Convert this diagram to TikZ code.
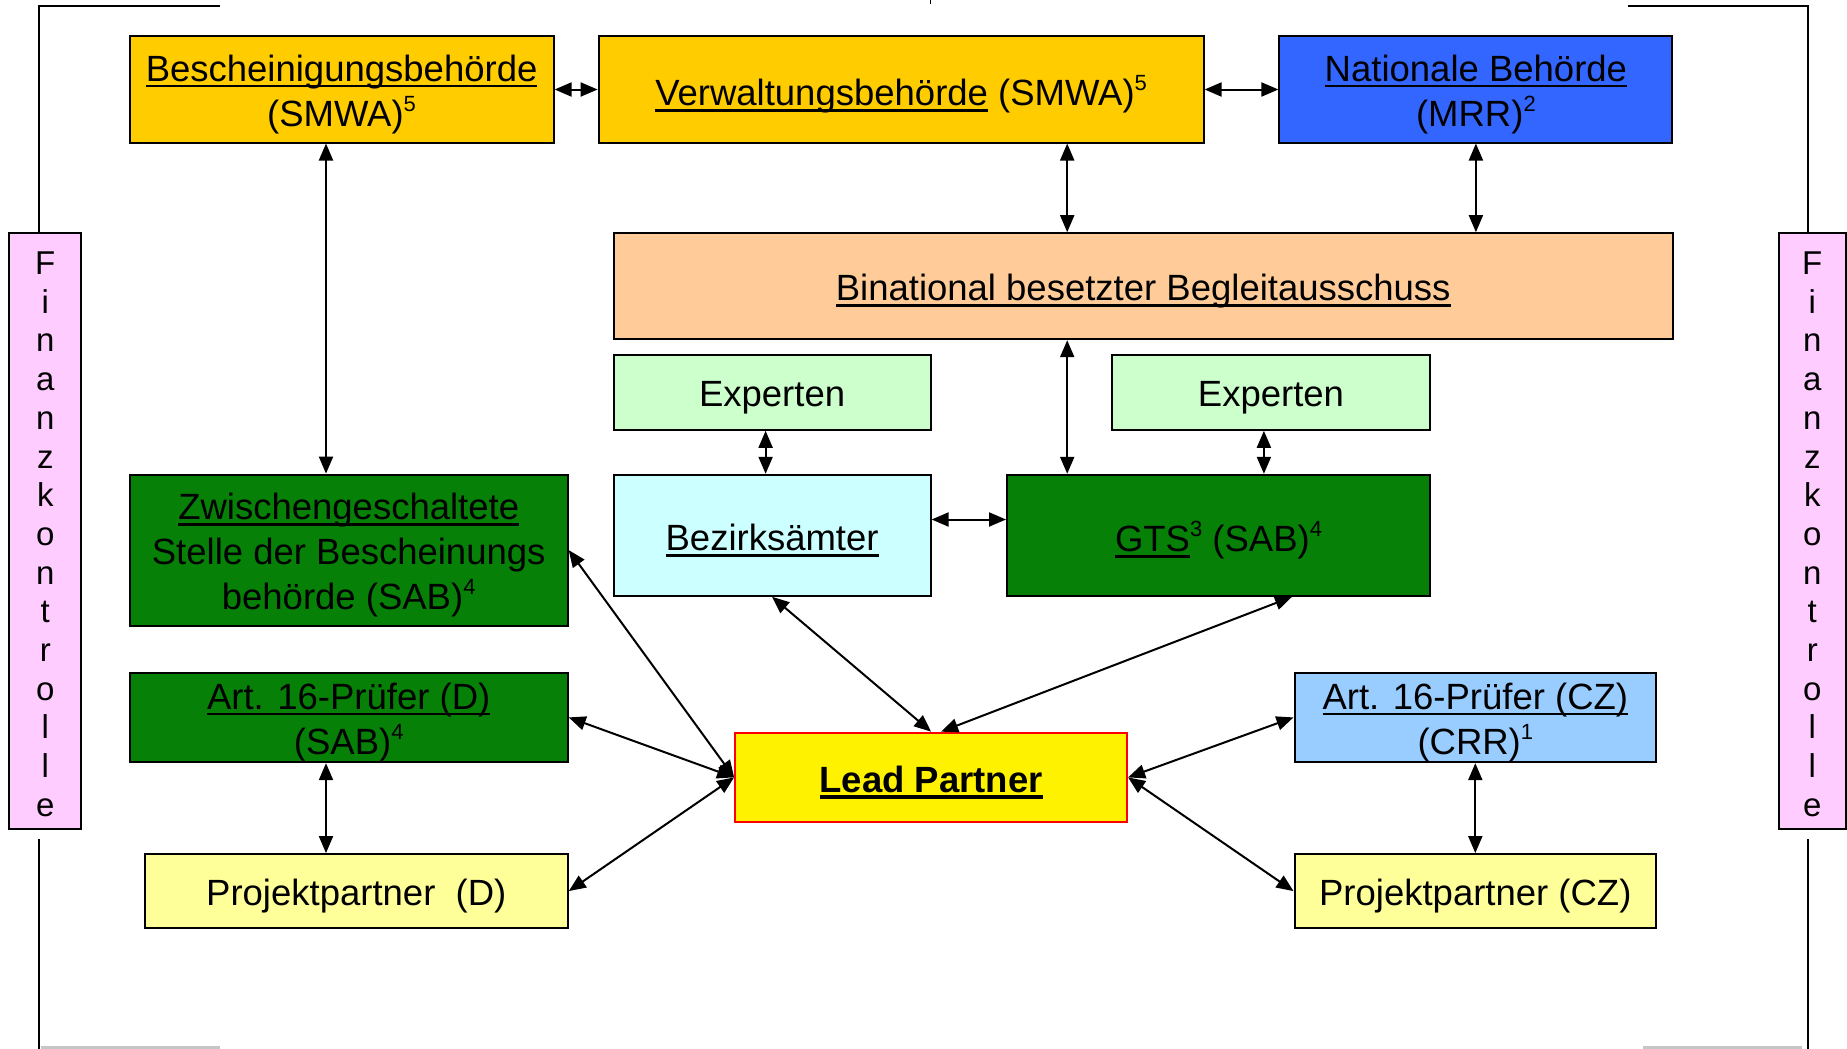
\documentclass[tikz,border=0pt]{standalone}
\usepackage{fontspec}
\setmainfont{Liberation Sans}
\usetikzlibrary{arrows.meta}
\definecolor{gold}{HTML}{FFCC00}
\definecolor{natblue}{HTML}{3366FF}
\definecolor{peach}{HTML}{FFCC99}
\definecolor{expgreen}{HTML}{CCFFCC}
\definecolor{bezcyan}{HTML}{CCFFFF}
\definecolor{dgreen}{HTML}{068006}
\definecolor{ppyellow}{HTML}{FFFF99}
\definecolor{czblue}{HTML}{99CCFF}
\definecolor{fkpink}{HTML}{FFCCFF}
\newsavebox\ulbox
\newcommand\myul[2][2.6pt]{\sbox\ulbox{#2}\rlap{\rule[-6pt]{\wd\ulbox}{#1}}\usebox\ulbox}
\newcommand\supx[1]{\raisebox{0.42em}{\fontsize{22}{22}\selectfont #1}}
\newcommand\dn[1]{\raisebox{-5pt}[\height][\depth]{#1}}
\newcommand\dnf[1]{\raisebox{-3pt}[\height][\depth]{#1}}
\tikzset{
  bx/.style={draw=black, line width=2pt, inner sep=0pt, align=center, font=\fontsize{36.5}{45}\selectfont},
  fk/.style={bx, fill=fkpink, minimum height=596pt, font=\fontsize{33}{38.7}\selectfont},
  dbl/.style={{Triangle[length=17pt,width=14pt]}-{Triangle[length=17pt,width=14pt]}, line width=2pt},
  frm/.style={line width=2pt},
}
\begin{document}
\begin{tikzpicture}[x=1pt,y=-1pt]
\useasboundingbox (0,0) rectangle (1847,1049);
% frame
\draw[line width=1.5pt] (930.6,0) -- (930.6,4);
\draw[gray!45, line width=3pt] (41,1047) -- (220,1047);
\draw[gray!45, line width=3pt] (1643,1047) -- (1802,1047);
\coordinate (xl) at (38.9,0);
\coordinate (xr) at (1808,0);
% side boxes
\node[fk, minimum width=72pt] (fkl) at (45.3,531.2) {\dnf{F}\\\dnf{i}\\\dnf{n}\\\dnf{a}\\\dnf{n}\\\dnf{z}\\\dnf{k}\\\dnf{o}\\\dnf{n}\\\dnf{t}\\\dnf{r}\\\dnf{o}\\\dnf{l}\\\dnf{l}\\\dnf{e}};
\node[fk, minimum width=67pt] (fkr) at (1812.3,531.2) {\dnf{F}\\\dnf{i}\\\dnf{n}\\\dnf{a}\\\dnf{n}\\\dnf{z}\\\dnf{k}\\\dnf{o}\\\dnf{n}\\\dnf{t}\\\dnf{r}\\\dnf{o}\\\dnf{l}\\\dnf{l}\\\dnf{e}};
\draw[frm] (220,5.9) -- (38.9,5.9) -- (fkl.north -| xl);
\draw[frm] ([yshift=-9pt]fkl.south -| xl) -- (38.9,1049);
\draw[frm] (1628,5.9) -- (1808,5.9) -- (fkr.north -| xr);
\draw[frm] ([yshift=-9pt]fkr.south -| xr) -- (1808,1049);
% top row
\node[bx, fill=gold, minimum width=424pt, minimum height=106pt] (besch) at (341.6,89.5) {\dn{\myul{Bescheinigungsbehörde}}\\\dn{(SMWA)\supx{5}}};
\node[bx, fill=gold, minimum width=605pt, minimum height=106pt] (verw) at (901.1,89.5) {\dn{\myul{Verwaltungsbehörde} (SMWA)\supx{5}}};
\node[bx, fill=natblue, minimum width=393pt, minimum height=106pt] (nat) at (1475.9,89.5) {\dn{\myul{Nationale Behörde}}\\\dn{(MRR)\supx{2}}};
% Begleitausschuss
\node[bx, fill=peach, minimum width=1059pt, minimum height=106pt] (begl) at (1143.2,286.2) {\dn{\myul{Binational besetzter Begleitausschuss}}};
% Experten
\node[bx, fill=expgreen, minimum width=317pt, minimum height=75pt] (expl) at (772.1,392.3) {\dn{Experten}};
\node[bx, fill=expgreen, minimum width=318pt, minimum height=75pt] (expr) at (1271,392.3) {\dn{Experten}};
% middle row
\node[bx, fill=bezcyan, minimum width=317pt, minimum height=121pt] (bez) at (772.1,535.3) {\dn{\myul{Bezirksämter}}};
\node[bx, fill=dgreen, minimum width=423pt, minimum height=121pt] (gts) at (1218.5,535.3) {\dn{\myul{GTS}\supx{3} (SAB)\supx{4}}};
\node[bx, fill=dgreen, minimum width=438pt, minimum height=151pt] (zw) at (348.7,550.1) {\dn{\myul{Zwischengeschaltete}}\\\dn{Stelle der Bescheinungs}\\\dn{behörde (SAB)\supx{4}}};
% lower rows
\node[bx, fill=dgreen, minimum width=438pt, minimum height=89.5pt] (a16d) at (348.7,717.4) {\dn{\myul{Art. 16-Prüfer (D)}}\\\dn{(SAB)\supx{4}}};
\node[bx, fill=ppyellow, minimum width=423pt, minimum height=74pt] (ppd) at (356.3,891.1) {\dn{Projektpartner~ (D)}};
\node[bx, fill=yellow, draw=red, minimum width=392pt, minimum height=89.5pt] (lead) at (931.1,777.4) {\dn{\bfseries\myul[3.6pt]{Lead Partner}}};
\node[bx, fill=czblue, minimum width=361.6pt, minimum height=89.5pt] (a16cz) at (1475.3,717.4) {\dn{\myul{Art. 16-Prüfer (CZ)}}\\\dn{(CRR)\supx{1}}};
\node[bx, fill=ppyellow, minimum width=361.6pt, minimum height=74pt] (ppcz) at (1475.3,891.1) {\dn{Projektpartner (CZ)}};
% helper coordinates
\coordinate (xa) at (326,0);
\coordinate (xb) at (1067.2,0);
\coordinate (xc) at (765.6,0);
\coordinate (xd) at (1263.9,0);
\coordinate (ybg) at (0,519.5);
% connectors
\draw[dbl] (besch.east) -- (verw.west);
\draw[dbl] (verw.east) -- (nat.west);
\draw[dbl] (besch.south -| xa) -- (zw.north -| xa);
\draw[dbl] (verw.south -| xb) -- (begl.north -| xb);
\draw[dbl] (nat.south) -- (begl.north -| nat.south);
\draw[dbl] (begl.south -| xb) -- (gts.north -| xb);
\draw[dbl] (expl.south -| xc) -- (bez.north -| xc);
\draw[dbl] (expr.south -| xd) -- (gts.north -| xd);
\draw[dbl] (bez.east |- ybg) -- (gts.west |- ybg);
\draw[dbl] (a16d.south -| xa) -- (ppd.north -| xa);
\draw[dbl] (a16cz.south) -- (ppcz.north);
\draw[dbl] (lead.west) -- (zw.east);
\draw[dbl] (lead.west) -- (a16d.east);
\draw[dbl] (lead.west) -- (ppd.east);
\draw[dbl] (lead.north) -- (bez.south);
\draw[dbl] ([xshift=10pt]lead.north) -- ([xshift=73.5pt]gts.south);
\draw[dbl] (lead.east) -- (a16cz.west);
\draw[dbl] (lead.east) -- (ppcz.west);
\end{tikzpicture}
\end{document}
